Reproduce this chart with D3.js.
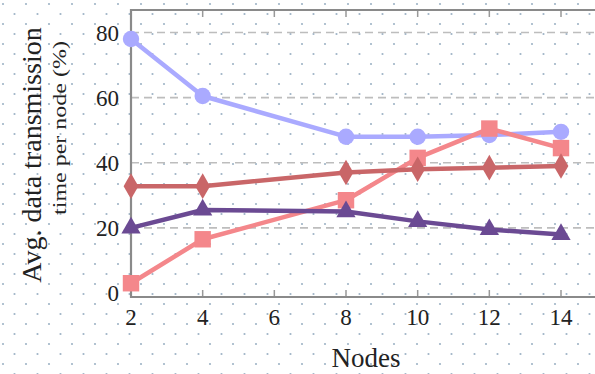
<!DOCTYPE html>
<html>
<head>
<meta charset="utf-8">
<script src="https://cdn.jsdelivr.net/npm/d3@7"></script>
<style>
  body { margin: 0; background: #fff; }
  svg { display: block; }
</style>
</head>
<body>
<div id="chart"></div>
<script>
const nodes = [2, 4, 8, 10, 12, 14];
const blueSeries = [78, 60.5, 48, 48, 48.5, 49.5];
const salmonSeries = [3, 16.5, 28.5, 41.5, 50.5, 44.5];
const redSeries = [32.8, 32.8, 37, 38, 38.5, 39];
const purpleSeries = [20, 25.5, 25, 22, 19.5, 18];
const xTicks = [2, 4, 6, 8, 10, 12, 14];
const yTicks = [0, 20, 40, 60, 80];
const gridTicks = [20, 40, 60, 80];

const width = 595, height = 374;
const serif = "Liberation Serif, Times New Roman, DejaVu Serif, serif";

const svg = d3.select("#chart").append("svg")
  .attr("width", width)
  .attr("height", height)
  .style("font-family", serif);

// dotted paper texture
const defs = svg.append("defs");
const pat = defs.append("pattern")
  .attr("id", "dots")
  .attr("patternUnits", "userSpaceOnUse")
  .attr("width", 23).attr("height", 20);
pat.append("circle").attr("cx", 3).attr("cy", 4).attr("r", 1.1).attr("fill", "#9fb4c6");
pat.append("circle").attr("cx", 14.5).attr("cy", 14).attr("r", 1.1).attr("fill", "#9fb4c6");

svg.append("rect").attr("width", width).attr("height", height).attr("fill", "#fff");
svg.append("rect").attr("width", width).attr("height", height).attr("fill", "url(#dots)");

const x = d3.scaleLinear().domain([2, 14]).range([131, 561]);
const y = d3.scaleLinear().domain([0, 80]).range([293, 32.5]);

const plotLeft = 131, plotTop = 10, plotBottom = 297, plotRight = width + 8;

// grid
svg.append("g").selectAll("line")
  .data(gridTicks).enter().append("line")
  .attr("x1", plotLeft).attr("x2", plotRight)
  .attr("y1", d => y(d)).attr("y2", d => y(d))
  .attr("stroke", "#bdbdbd")
  .attr("stroke-width", 1.6)
  .attr("stroke-dasharray", "8,5");

// ticks on top and bottom
const tickG = svg.append("g").attr("stroke", "#999").attr("stroke-width", 1.5);
xTicks.forEach(t => {
  tickG.append("line").attr("x1", x(t)).attr("x2", x(t)).attr("y1", plotBottom).attr("y2", plotBottom - 7);
  tickG.append("line").attr("x1", x(t)).attr("x2", x(t)).attr("y1", plotTop).attr("y2", plotTop + 7);
});

// frame
svg.append("path")
  .attr("d", `M${plotRight},${plotTop}H${plotLeft}V${plotBottom}H${plotRight}`)
  .attr("fill", "none")
  .attr("stroke", "#8a8a8a")
  .attr("stroke-width", 2.2);

// tick labels
svg.append("g").selectAll("text")
  .data(xTicks).enter().append("text")
  .attr("x", d => x(d))
  .attr("y", 325)
  .attr("text-anchor", "middle")
  .attr("font-size", 23)
  .attr("fill", "#222")
  .text(d => d);

svg.append("g").selectAll("text")
  .data(yTicks).enter().append("text")
  .attr("x", 119)
  .attr("y", d => y(d) + 8)
  .attr("text-anchor", "end")
  .attr("font-size", 23)
  .attr("fill", "#222")
  .text(d => d);

// axis titles
svg.append("text")
  .attr("x", 366).attr("y", 367)
  .attr("text-anchor", "middle")
  .attr("font-size", 27)
  .attr("fill", "#222")
  .text("Nodes");

svg.append("text")
  .attr("transform", "translate(41,155) rotate(-90)")
  .attr("text-anchor", "middle")
  .attr("font-size", 28)
  .attr("fill", "#222")
  .text("Avg. data transmission");

svg.append("text")
  .attr("transform", "translate(66,128) rotate(-90) scale(1,0.75)")
  .attr("text-anchor", "middle")
  .attr("font-size", 24)
  .attr("fill", "#222")
  .text("time per node (%)");

const line = d3.line().x((d, i) => x(nodes[i])).y(d => y(d));

function drawSeries(vals, color, symbolType, size) {
  const g = svg.append("g");
  g.append("path")
    .datum(vals)
    .attr("d", line)
    .attr("fill", "none")
    .attr("stroke", color)
    .attr("stroke-width", 4.5)
    .attr("stroke-linejoin", "round");
  g.selectAll("path.m")
    .data(vals).enter().append("path")
    .attr("class", "m")
    .attr("transform", (d, i) => `translate(${x(nodes[i])},${y(d)})`)
    .attr("d", d3.symbol().type(symbolType).size(size))
    .attr("fill", color);
}

drawSeries(blueSeries, "#aaaaff", d3.symbolCircle, 210);
drawSeries(salmonSeries, "#f4878b", d3.symbolSquare, 270);
drawSeries(redSeries, "#c96668", d3.symbolDiamond, 190);
drawSeries(purpleSeries, "#6b4a93", d3.symbolTriangle, 160);
</script>
</body>
</html>
